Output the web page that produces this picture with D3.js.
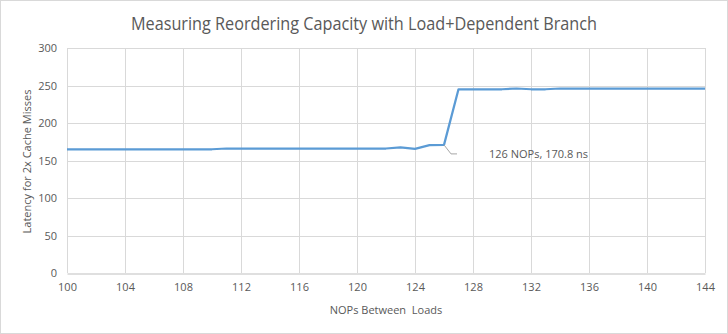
<!DOCTYPE html>
<html>
<head>
<meta charset="utf-8">
<script src="https://cdn.jsdelivr.net/npm/d3@7"></script>
<style>
  html, body { margin: 0; padding: 0; background: #fff; }
  svg { display: block; }
  text { font-family: "Open Sans", "Noto Sans", sans-serif; fill: #595959; }
</style>
</head>
<body>
<svg id="chart" width="728" height="334"></svg>
<script>
// NOPs between the two loads
const nops = [100,101,102,103,104,105,106,107,108,109,110,111,112,113,114,115,116,117,118,119,120,121,122,123,124,125,126,127,128,129,130,131,132,133,134,135,136,137,138,139,140,141,142,143,144];
// measured latency (ns) for two cache misses
const latency = [165,165,165,165,165,165,165,165,165,165,165,166,166,166,166,166,166,166,166,166,166,166,166,167.5,165.5,170.5,170.8,245,245,245,245,246,245,245,246,246,246,246,246,246,246,246,246,246,246];
const xTicks = [100,104,108,112,116,120,124,128,132,136,140,144];
const yTicks = [0,50,100,150,200,250,300];
const callout = { x: 126, y: 170.8, label: "126 NOPs, 170.8 ns" };

const W = 728, H = 334;
const m = { left: 67, right: 23, top: 48, bottom: 61 };
const svg = d3.select("#chart");

// chart frame
svg.append("rect").attr("x", 0.5).attr("y", 0.5).attr("width", W - 1).attr("height", H - 1)
  .attr("fill", "#fff").attr("stroke", "#d9d9d9");

const x = d3.scaleLinear().domain([100, 144]).range([m.left, W - m.right]);
const y = d3.scaleLinear().domain([0, 300]).range([H - m.bottom, m.top]);

// gridlines
svg.append("g").selectAll("line.h").data(yTicks.filter(d => d > 0)).join("line")
  .attr("x1", x(100)).attr("x2", x(144))
  .attr("y1", d => Math.round(y(d)) + 0.5).attr("y2", d => Math.round(y(d)) + 0.5)
  .attr("stroke", "#d9d9d9").attr("stroke-width", 1);
svg.append("g").selectAll("line.v").data(xTicks).join("line")
  .attr("x1", d => Math.round(x(d)) + 0.5).attr("x2", d => Math.round(x(d)) + 0.5)
  .attr("y1", y(300)).attr("y2", y(0))
  .attr("stroke", "#d9d9d9").attr("stroke-width", 1);

// x axis
const xAxis = svg.append("g").attr("transform", `translate(0,${Math.round(y(0)) + 0.5})`)
  .call(d3.axisBottom(x).tickValues(xTicks).tickSize(0).tickPadding(10));
xAxis.select(".domain").attr("stroke", "#bfbfbf");
xAxis.selectAll("text").attr("font-size", 11).attr("fill", "#595959")
  .style("font-family", "'Open Sans', sans-serif");

// y axis
const yAxis = svg.append("g").attr("transform", `translate(${m.left},0)`)
  .call(d3.axisLeft(y).tickValues(yTicks).tickSize(0).tickPadding(10));
yAxis.select(".domain").remove();
yAxis.selectAll("text").attr("font-size", 11).attr("fill", "#595959")
  .style("font-family", "'Open Sans', sans-serif");

// series line
const line = d3.line().x((d, i) => x(nops[i])).y(d => y(d));
svg.append("path").datum(latency).attr("d", line)
  .attr("fill", "none").attr("stroke", "#5b9bd5").attr("stroke-width", 2.25)
  .attr("stroke-linejoin", "round");

// callout on the last point before the jump
const px = x(callout.x), py = y(callout.y);
svg.append("path")
  .attr("d", `M${px},${py} L${px + 7},${py + 9} L${px + 13},${py + 9}`)
  .attr("fill", "none").attr("stroke", "#a6a6a6").attr("stroke-width", 1);
svg.append("text").attr("x", px + 45).attr("y", py + 13)
  .attr("font-size", 11).text(callout.label);

// titles
svg.append("text").attr("x", 364).attr("y", 30).attr("text-anchor", "middle")
  .attr("font-size", 18).style("font-family", "'Open Sans', sans-serif")
  .attr("textLength", 466).attr("lengthAdjust", "spacingAndGlyphs")
  .text("Measuring Reordering Capacity with Load+Dependent Branch");
svg.append("text").attr("x", x(122)).attr("y", 314).attr("text-anchor", "middle")
  .attr("font-size", 11).style("white-space", "pre")
  .text("NOPs Between  Loads");
svg.append("text").attr("transform", `translate(31,${y(150) + 1}) rotate(-90)`)
  .attr("text-anchor", "middle").attr("font-size", 11.5)
  .attr("textLength", 144).attr("lengthAdjust", "spacingAndGlyphs")
  .text("Latency for 2x Cache Misses");
</script>
</body>
</html>
